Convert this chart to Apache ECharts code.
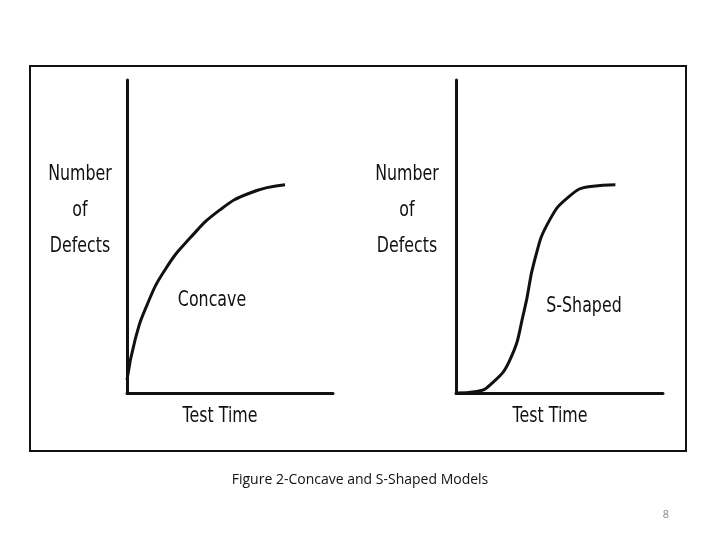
<!DOCTYPE html>
<html><head><meta charset="utf-8">
<script src="https://cdn.jsdelivr.net/npm/echarts@6/dist/echarts.min.js"></script>
<style>html,body{margin:0;padding:0;background:#fff}#c{width:720px;height:540px}</style>
</head><body><div id="c"></div>
<script>
const concaveX = [0, 0.39, 0.97, 1.84, 3.06, 4.51, 5.97, 7.67];
const concaveY = [0.42, 1.69, 2.81, 3.93, 4.95, 5.85, 6.39, 6.65];
const sX = [0, 1, 1.65, 2.6, 3.3, 3.8, 4.5, 5.5, 6.5, 7.7];
const sY = [0, 0.05, 0.26, 1.05, 2.65, 4.25, 5.5, 6.3, 6.6, 6.65];
const yLabel = 'Number\nof\nDefects';
const xLabel = 'Test Time';
const curveNames = ['Concave', 'S-Shaped'];
const caption = 'Figure 2-Concave and S-Shaped Models';
const pageNo = '8';

const font = '"DejaVu Sans",sans-serif';
const chart = echarts.init(document.getElementById('c'));
const axisLine = {show:true, lineStyle:{color:'#111', width:3}};
const xa = i => ({type:'value', gridIndex:i, min:0, max:10, axisLine, axisTick:{show:false}, axisLabel:{show:false}, splitLine:{show:false}});
const ya = i => ({type:'value', gridIndex:i, min:0, max:10, axisLine, axisTick:{show:false}, axisLabel:{show:false}, splitLine:{show:false}});
const t = (x,y,text) => ({type:'text', x:x, y:y, scaleX:0.72, style:{text:text, fontFamily:font, fontSize:22, fill:'#111', align:'center', verticalAlign:'middle', lineHeight:36}});
chart.setOption({
  animation:false,
  grid:[{left:127, top:80, width:206, height:313},{left:456, top:80, width:207, height:313}],
  xAxis:[xa(0), xa(1)],
  yAxis:[ya(0), ya(1)],
  series:[
    {type:'line', xAxisIndex:0, yAxisIndex:0, smooth:0.5, symbol:'none', lineStyle:{color:'#111', width:3}, data:concaveX.map((x,i)=>[x,concaveY[i]])},
    {type:'line', xAxisIndex:1, yAxisIndex:1, smooth:0.5, symbol:'none', lineStyle:{color:'#111', width:3}, data:sX.map((x,i)=>[x,sY[i]])}
  ],
  graphic:[
    {type:'rect', shape:{x:30, y:66, width:656, height:385}, style:{fill:'none', stroke:'#111', lineWidth:2}},
    t(80,210,yLabel), t(407,210,yLabel),
    t(212,300,curveNames[0]), t(584,306,curveNames[1]),
    t(220,416,xLabel), t(550,416,xLabel),
    {type:'text', x:360, y:473, style:{text:caption, fontFamily:'"Open Sans",sans-serif', fontSize:14, fill:'#111', align:'center'}},
    {type:'text', x:666, y:509, style:{text:pageNo, fontFamily:'"Open Sans",sans-serif', fontSize:11, fill:'#888', align:'center'}}
  ]
});
</script></body></html>
